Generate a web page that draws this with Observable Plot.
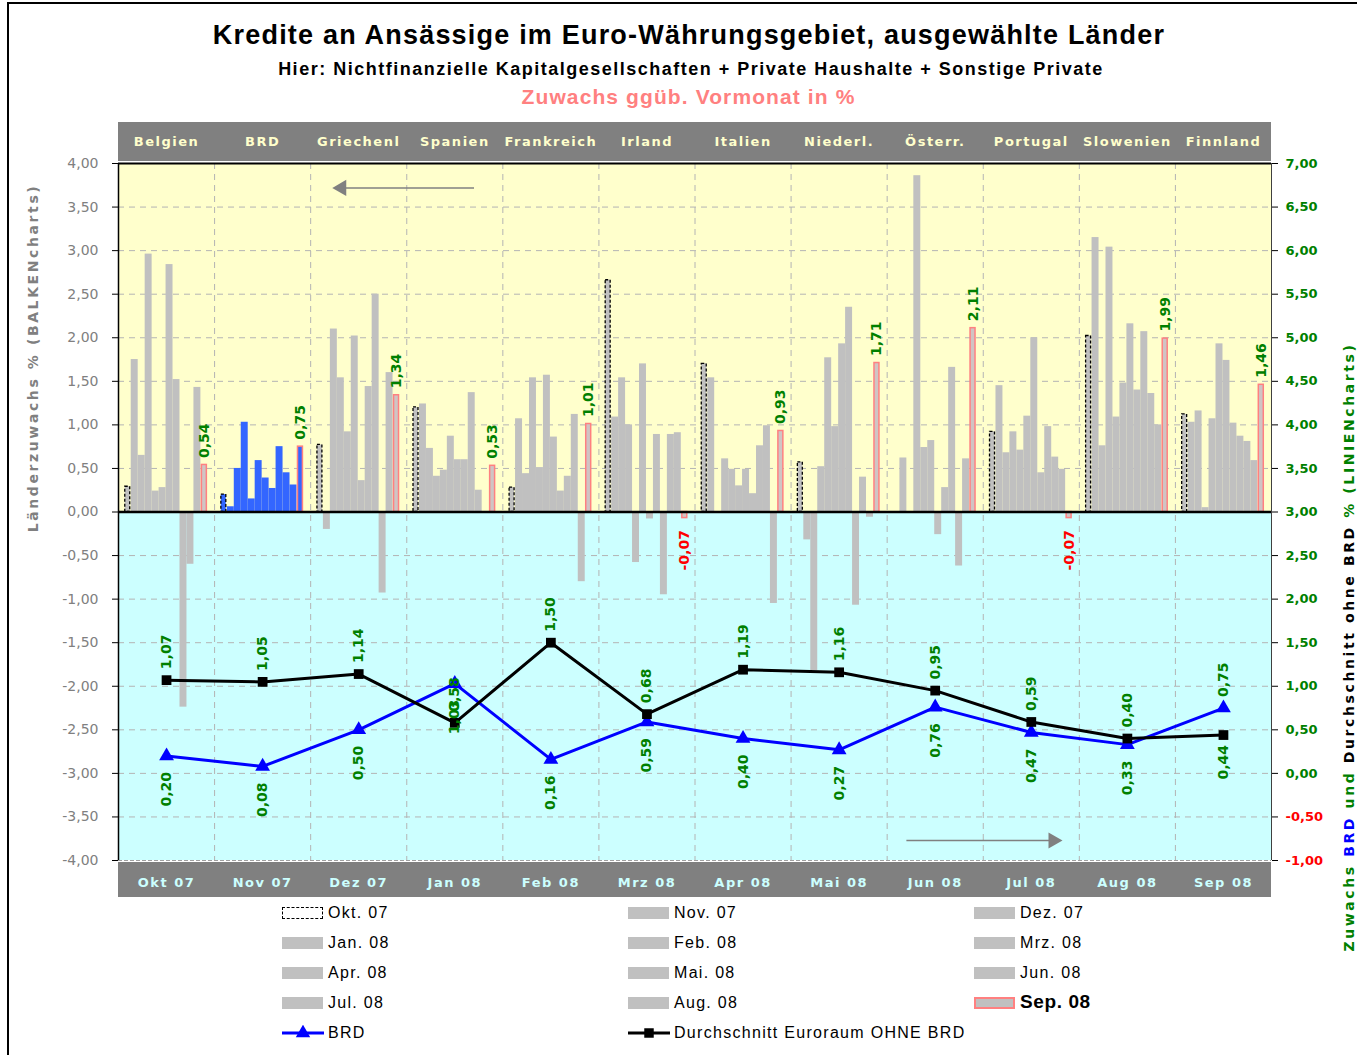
<!DOCTYPE html>
<html><head><meta charset="utf-8">
<script src="https://cdn.jsdelivr.net/npm/d3@7"></script>
<script src="https://cdn.jsdelivr.net/npm/@observablehq/plot@0.6"></script>
<style>
body{margin:0;background:#fff;}
#wrap{position:relative;width:1357px;height:1055px;overflow:hidden;background:#fff;font-family:"Liberation Sans",Arial,sans-serif;}
.abs{position:absolute;}
#chart{position:absolute;left:0;top:0;}
#chart svg g[aria-label="x-axis tick label"] text{letter-spacing:1.5px;}
.lg{position:absolute;font-family:"Liberation Sans",Arial,sans-serif;font-size:16px;letter-spacing:1.3px;color:#000;line-height:18px;white-space:nowrap;}
</style></head><body>
<div id="wrap">
  <div class="abs" style="left:7px;top:2px;width:2px;height:1060px;background:#000"></div>
  <div class="abs" style="left:7px;top:2px;width:1360px;height:2px;background:#000"></div>
  <div class="abs" style="left:0;width:1378px;top:19px;text-align:center;font-weight:bold;font-size:27px;letter-spacing:1.2px;line-height:32px;">Kredite an Ansässige im Euro-Währungsgebiet, ausgewählte Länder</div>
  <div class="abs" style="left:0;width:1382px;top:58px;text-align:center;font-weight:bold;font-size:18px;letter-spacing:1.5px;line-height:22px;">Hier: Nichtfinanzielle Kapitalgesellschaften + Private Haushalte + Sonstige Private</div>
  <div class="abs" style="left:0;width:1377px;top:85px;text-align:center;font-weight:bold;font-size:21px;letter-spacing:1.1px;line-height:24px;color:#ff8080;">Zuwachs ggüb. Vormonat in %</div>
  <div class="abs" style="left:118px;top:122px;width:1153px;height:39px;background:#808080"></div>
  <div class="abs" style="left:118px;top:862px;width:1153px;height:35px;background:#808080"></div>
  <div id="chart"></div>
  <div class="abs" style="left:-317px;top:348px;width:700px;text-align:center;transform:rotate(-90deg);font-family:'DejaVu Sans';font-weight:bold;font-size:14px;letter-spacing:2.6px;color:#808080;line-height:20px;">Länderzuwachs % (BALKENcharts)</div>
  <div class="abs" style="left:999px;top:637px;width:700px;text-align:center;transform:rotate(-90deg);font-family:'DejaVu Sans';font-weight:bold;font-size:14px;letter-spacing:2.6px;line-height:20px;color:#008000;">Zuwachs <span style="color:#0000ff">BRD</span> und <span style="color:#000">Durchschnitt ohne BRD</span> % (LINIENcharts)</div>
  <div id="legend"></div>
</div>
<script>
// ---------- DATA ----------
const COUNTRIES = ["Belgien","BRD","Griechenl","Spanien","Frankreich","Irland","Italien","Niederl.","Österr.","Portugal","Slowenien","Finnland"];
const MONTHS_AXIS = ["Okt 07","Nov 07","Dez 07","Jan 08","Feb 08","Mrz 08","Apr 08","Mai 08","Jun 08","Jul 08","Aug 08","Sep 08"];
const MONTHS_LEGEND = ["Okt. 07","Nov. 07","Dez. 07","Jan. 08","Feb. 08","Mrz. 08","Apr. 08","Mai. 08","Jun. 08","Jul. 08","Aug. 08","Sep. 08"];

// Monthly growth per country, Okt 07 .. Sep 08 (left axis, %)
const belgien    = [0.29, 1.75, 0.65, 2.96, 0.24, 0.28, 2.84, 1.52, -2.24, -0.60, 1.43, 0.54];
const brdBars    = [0.20, 0.06, 0.50, 1.03, 0.15, 0.59, 0.39, 0.27, 0.75, 0.45, 0.31, 0.75];
const griechenl  = [0.77, -0.20, 2.10, 1.54, 0.92, 2.02, 0.36, 1.44, 2.50, -0.93, 1.60, 1.34];
const spanien    = [1.20, 1.24, 0.73, 0.41, 0.48, 0.87, 0.60, 0.60, 1.37, 0.25, 0.00, 0.53];
const frankreich = [0.28, 1.07, 0.44, 1.54, 0.51, 1.57, 0.86, 0.24, 0.41, 1.12, -0.80, 1.01];
const irland     = [2.66, 1.09, 1.54, 1.00, -0.58, 1.70, -0.08, 0.89, -0.95, 0.89, 0.91, -0.07];
const italien    = [1.70, 1.54, 0.00, 0.61, 0.49, 0.30, 0.49, 0.21, 0.76, 0.99, -1.05, 0.93];
const niederl    = [0.57, -0.32, -1.82, 0.52, 1.77, 0.98, 1.93, 2.35, -1.07, 0.40, -0.06, 1.71];
const oesterr    = [0.00, 0.62, 0.00, 3.86, 0.74, 0.82, -0.26, 0.28, 1.66, -0.62, 0.61, 2.11];
const portugal   = [0.92, 1.45, 0.68, 0.92, 0.71, 1.10, 2.00, 0.45, 0.98, 0.63, 0.49, -0.07];
const slowenien  = [2.02, 3.15, 0.76, 3.04, 1.09, 1.48, 2.16, 1.40, 2.07, 1.36, 1.00, 1.99];
const finnland   = [1.12, 1.03, 1.16, 0.05, 1.07, 1.93, 1.74, 1.02, 0.87, 0.81, 0.59, 1.46];

// Lines (right axis, %)
const brdLine = [0.20, 0.08, 0.50, 1.03, 0.16, 0.59, 0.40, 0.27, 0.76, 0.47, 0.33, 0.75];
const avgLine = [1.07, 1.05, 1.14, 0.58, 1.50, 0.68, 1.19, 1.16, 0.95, 0.59, 0.40, 0.44];

// Axis ticks
const LEFT_TICKS = d3.range(-4, 4.001, 0.5);
const RIGHT_OFFSET = 3; // right axis value = left axis value + 3

// Annotation arrows (group index, left-axis value)
const arrowTop = {x1: 3.7, x2: 2.27, y: 3.72};
const arrowBottom = {x1: 8.2, x2: 9.78, y: -3.77};

// ---------- BUILD ----------
const series = [belgien, brdBars, griechenl, spanien, frankreich, irland, italien, niederl, oesterr, portugal, slowenien, finnland];
const PAD = 0.06, BW = 0.0725;
const bars = [];
series.forEach((vals, c) => vals.forEach((v, m) => bars.push({c, m, v, x1: c + PAD + m*BW, x2: c + PAD + (m+1)*BW})));
const fmt = v => v.toFixed(2).replace(".", ",").replace(/^-0,00$/, "0,00");
const centers = d3.range(12).map(i => i + 0.5);
const lineData = (arr) => arr.map((v, i) => ({i, x: i + 0.5, y: v - RIGHT_OFFSET, v}));
const brdPts = lineData(brdLine), avgPts = lineData(avgLine);
const sepLabels = series.map((vals, c) => ({x: c + PAD + 11.5*BW, v: vals[11]}));
const GREEN = "#008000";
const FONT = "DejaVu Sans";

const labelOpts = {x: "x", y: "y", text: d => fmt(d.v), rotate: -90, lineAnchor: "middle", fill: GREEN, fontWeight: "bold", fontSize: 14, fontFamily: FONT};

const plot = Plot.plot({
  width: 1357, height: 1055,
  marginLeft: 118, marginRight: 86, marginTop: 163, marginBottom: 195,
  style: {background: "transparent", overflow: "visible"},
  x: {domain: [0, 12], axis: null},
  y: {domain: [-4, 4], axis: null},
  marks: [
    Plot.rect([{y1: 0, y2: 4, f: "#ffffcc"}, {y1: -4, y2: 0, f: "#ccffff"}], {x1: () => 0, x2: () => 12, y1: "y1", y2: "y2", fill: "f"}),
    Plot.ruleY(LEFT_TICKS.filter(d => d > -4 && d < 4 && d !== 0), {stroke: "#b4b4b4", strokeDasharray: "6,5"}),
    Plot.ruleX(d3.range(1, 12), {stroke: "#b4b4b4", strokeDasharray: "6,5"}),
    Plot.ruleY([-4], {stroke: "#a0a0a0", strokeDasharray: "4,2"}),
    // bars
    Plot.rect(bars.filter(d => d.m > 0 && d.m < 11), {x1: "x1", x2: "x2", y1: () => 0, y2: "v", fill: d => d.c === 1 ? "#3366ff" : "#c0c0c0"}),
    Plot.rect(bars.filter(d => d.m === 0), {x1: "x1", x2: "x2", y1: () => 0, y2: "v", fill: d => d.c === 1 ? "#3366ff" : "#c0c0c0", stroke: "#000", strokeWidth: 1.3, strokeDasharray: "3,2", insetLeft: 1, insetRight: 1}),
    Plot.rect(bars.filter(d => d.m === 11), {x1: "x1", x2: "x2", y1: () => 0, y2: "v", fill: d => d.c === 1 ? "#3366ff" : "#d0c4c4", stroke: "#ff8080", strokeWidth: 1.5, insetLeft: 1, insetRight: 1}),
    // frame
    Plot.ruleY([4], {stroke: "#000", strokeWidth: 2}),
    Plot.ruleY([0], {stroke: "#000", strokeWidth: 2.5}),
    Plot.ruleX([0], {stroke: "#000", strokeWidth: 1.5}),
    Plot.ruleX([12], {y1: -4, y2: 4, stroke: "#404040", strokeWidth: 1}),
    // Sep 08 bar labels
    Plot.text(sepLabels.filter(d => d.v >= 0), {x: "x", y: "v", text: d => fmt(d.v), rotate: -90, lineAnchor: "middle", textAnchor: "start", dy: -7, fill: GREEN, fontWeight: "bold", fontSize: 14, fontFamily: FONT}),
    Plot.text(sepLabels.filter(d => d.v < 0), {x: "x", y: "v", text: d => fmt(d.v), rotate: -90, lineAnchor: "middle", textAnchor: "end", dy: 12, fill: "#ff0000", fontWeight: "bold", fontSize: 14, fontFamily: FONT}),
    // lines
    Plot.line(brdPts, {x: "x", y: "y", stroke: "#0000ff", strokeWidth: 3}),
    Plot.line(avgPts, {x: "x", y: "y", stroke: "#000", strokeWidth: 3}),
    Plot.dot(brdPts, {x: "x", y: "y", symbol: "triangle", r: 5.5, fill: "#0000ff"}),
    Plot.dot(avgPts, {x: "x", y: "y", symbol: "square", r: 5.5, fill: "#000"}),
    Plot.text(avgPts.filter(d => d.i !== 11), {...labelOpts, textAnchor: "start", dy: -11}),
    Plot.text(avgPts.filter(d => d.i === 11), {...labelOpts, textAnchor: "end", dy: 10}),
    Plot.text(brdPts.filter(d => d.i !== 11), {...labelOpts, textAnchor: "end", dy: 16}),
    Plot.text(brdPts.filter(d => d.i === 11), {...labelOpts, textAnchor: "start", dy: -11}),
    // arrows
    Plot.link([arrowTop, arrowBottom], {x1: "x1", x2: "x2", y1: "y", y2: "y", stroke: "#808080", strokeWidth: 1.5}),
    Plot.dot([arrowTop], {x: "x2", y: "y", symbol: "triangle", r: 6, fill: "#808080", rotate: -90, dx: 5}),
    Plot.dot([arrowBottom], {x: "x2", y: "y", symbol: "triangle", r: 6, fill: "#808080", rotate: 90, dx: -5}),
    // axes
    Plot.axisY(LEFT_TICKS, {anchor: "left", tickFormat: fmt, tickSize: 6, tickPadding: 14, stroke: "#000", fill: "#808080", fontSize: 14, fontFamily: FONT, label: null}),
    Plot.axisY(LEFT_TICKS.filter(d => d + RIGHT_OFFSET >= 0), {anchor: "right", tickFormat: d => fmt(d + RIGHT_OFFSET), tickSize: 6, tickPadding: 8, stroke: "#000", fill: GREEN, fontWeight: "bold", fontSize: 13, fontFamily: FONT, label: null}),
    Plot.axisY(LEFT_TICKS.filter(d => d + RIGHT_OFFSET < 0), {anchor: "right", tickFormat: d => fmt(d + RIGHT_OFFSET), tickSize: 6, tickPadding: 8, stroke: "#000", fill: "#ff0000", fontWeight: "bold", fontSize: 13, fontFamily: FONT, label: null}),
    Plot.axisX(centers, {anchor: "top", tickFormat: d => COUNTRIES[Math.floor(d)], tickSize: 0, tickPadding: 18, fill: "#ffffcc", fontWeight: "bold", fontSize: 13, fontFamily: FONT, label: null}),
    Plot.axisX(centers, {anchor: "bottom", tickFormat: d => MONTHS_AXIS[Math.floor(d)], tickSize: 0, tickPadding: 17, fill: "#ccffff", fontWeight: "bold", fontSize: 13, fontFamily: FONT, label: null})
  ]
});
document.getElementById("chart").append(plot);

// ---------- LEGEND ----------
const legend = document.getElementById("legend");
const colX = [282, 628, 974];
const rowY = [913, 943, 973, 1003, 1033];
MONTHS_LEGEND.forEach((m, k) => {
  const r = Math.floor(k / 3), c = k % 3;
  const sw = document.createElement("div");
  sw.style.cssText = `position:absolute;left:${colX[c]}px;top:${rowY[r] - 6}px;width:41px;height:12px;box-sizing:border-box;` +
    (k === 0 ? "border:1.5px dashed #000;background:#fff;" : k === 11 ? "border:2px solid #ff8080;background:#c0c0c0;" : "background:#c0c0c0;");
  legend.append(sw);
  const t = document.createElement("div");
  t.className = "lg";
  t.textContent = m;
  t.style.left = (colX[c] + 46) + "px";
  t.style.top = (rowY[r] - 9) + "px";
  if (k === 11) { t.style.fontWeight = "bold"; t.style.fontSize = "19px"; t.style.letterSpacing = "0.6px"; t.style.top = (rowY[r] - 10) + "px"; }
  legend.append(t);
});
function lineKey(x, y, color, symbol, label) {
  const ns = "http://www.w3.org/2000/svg";
  const s = document.createElementNS(ns, "svg");
  s.setAttribute("width", 44); s.setAttribute("height", 16);
  s.style.cssText = `position:absolute;left:${x}px;top:${y - 8}px;`;
  const l = document.createElementNS(ns, "line");
  l.setAttribute("x1", 0); l.setAttribute("x2", 42); l.setAttribute("y1", 8); l.setAttribute("y2", 8);
  l.setAttribute("stroke", color); l.setAttribute("stroke-width", 3);
  s.append(l);
  const p = document.createElementNS(ns, "path");
  p.setAttribute("d", d3.symbol(symbol === "tri" ? d3.symbolTriangle : d3.symbolSquare, 90)());
  p.setAttribute("transform", "translate(21,8)");
  p.setAttribute("fill", color);
  s.append(p);
  legend.append(s);
  const t = document.createElement("div");
  t.className = "lg"; t.textContent = label;
  t.style.left = (x + 46) + "px"; t.style.top = (y - 9) + "px";
  legend.append(t);
}
lineKey(282, rowY[4], "#0000ff", "tri", "BRD");
lineKey(628, rowY[4], "#000", "sq", "Durchschnitt Euroraum OHNE BRD");
</script>
</body></html>
